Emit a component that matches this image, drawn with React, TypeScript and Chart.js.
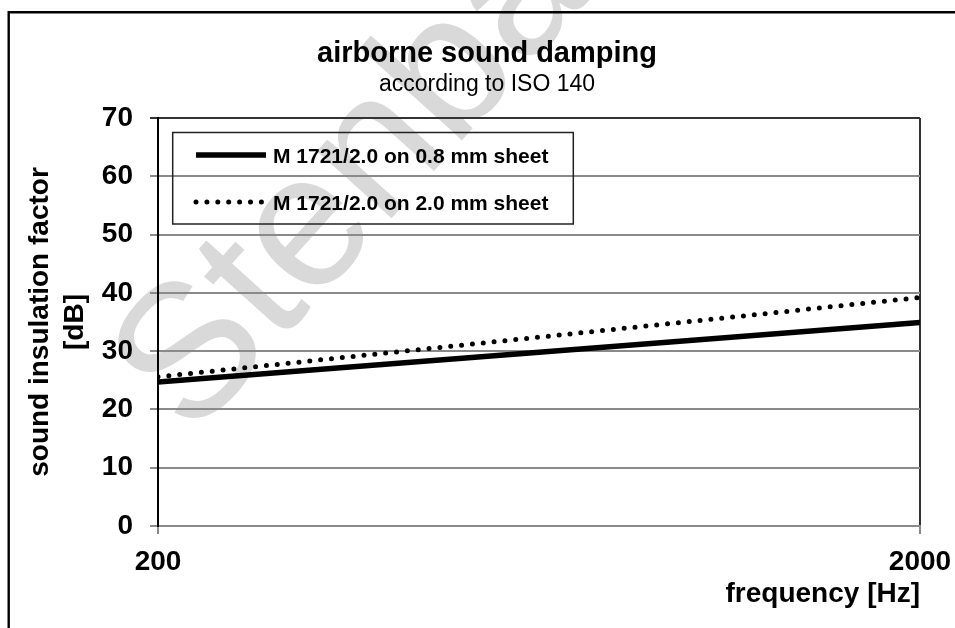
import { useEffect, useRef } from 'react';
import { Chart, registerables } from 'chart.js';

Chart.register(...registerables);

const chartTitle = 'airborne sound damping';
const chartSubtitle = 'according to ISO 140';
const xAxisTitle = 'frequency [Hz]';
const yAxisTitle = ['sound insulation factor', '[dB]'];
const seriesLabels = ['M 1721/2.0 on 0.8 mm sheet', 'M 1721/2.0 on 2.0 mm sheet'];
const frequencies = [200, 2000];
const sheet08mm = [24.7, 34.9];
const sheet20mm = [25.6, 39.2];
const xTickValues = [200, 2000];
const yMin = 0;
const yMax = 70;
const yStep = 10;
const watermarkText = 'Stenbach';

const FONT = "'Liberation Sans', Arial, Helvetica, sans-serif";
const GRID = '#8a8a8a';
const DARK = '#333333';

const backgroundPlugin = {
  id: 'bgWatermark',
  beforeDraw(chart: any) {
    const ctx = chart.ctx;
    ctx.save();
    ctx.fillStyle = '#ffffff';
    ctx.fillRect(0, 0, chart.width, chart.height);
    ctx.translate(192, 440);
    ctx.rotate((-48 * Math.PI) / 180);
    ctx.font = `190px ${FONT}`;
    ctx.fillStyle = '#d9d9d9';
    ctx.textBaseline = 'alphabetic';
    ctx.fillText(watermarkText, 0, 0);
    ctx.restore();
  },
  afterDraw(chart: any) {
    const ctx = chart.ctx;
    ctx.save();
    ctx.strokeStyle = '#000';
    ctx.lineWidth = 2.4;
    ctx.beginPath();
    ctx.moveTo(8.7, chart.height);
    ctx.lineTo(8.7, 12.2);
    ctx.lineTo(chart.width, 12.2);
    ctx.stroke();
    ctx.restore();
  },
};

const boxedLegendPlugin = {
  id: 'boxedLegend',
  afterDatasetsDraw(chart: any) {
    const ctx = chart.ctx;
    const ca = chart.chartArea;
    const left = ca.left + 14.7;
    const top = ca.top + 14.5;
    const w = 400.6;
    const h = 91.5;
    ctx.save();
    ctx.strokeStyle = '#222';
    ctx.lineWidth = 1.5;
    ctx.strokeRect(left, top, w, h);
    const rows = [22.5, 69.5];
    chart.data.datasets.forEach((ds: any, i: number) => {
      const y = top + rows[i];
      ctx.save();
      ctx.strokeStyle = ds.borderColor;
      ctx.lineWidth = ds.borderWidth;
      ctx.lineCap = ds.borderCapStyle || 'butt';
      ctx.setLineDash(ds.borderDash || []);
      ctx.beginPath();
      ctx.moveTo(left + 23.3, y);
      ctx.lineTo(left + 93.3, y);
      ctx.stroke();
      ctx.restore();
      ctx.fillStyle = '#000';
      ctx.font = `bold 21px ${FONT}`;
      ctx.textBaseline = 'alphabetic';
      ctx.textAlign = 'left';
      ctx.fillText(ds.label, left + 100.3, y + 7.8);
    });
    ctx.restore();
  },
};

export default function App() {
  const canvasRef = useRef<HTMLCanvasElement | null>(null);

  useEffect(() => {
    const canvas = canvasRef.current;
    if (!canvas) return;
    const chart = new Chart(canvas, {
      type: 'line',
      data: {
        datasets: [
          {
            label: seriesLabels[0],
            data: frequencies.map((f, i) => ({ x: f, y: sheet08mm[i] })),
            borderColor: '#000',
            backgroundColor: '#000',
            borderWidth: 5.5,
            pointRadius: 0,
            tension: 0,
          },
          {
            label: seriesLabels[1],
            data: frequencies.map((f, i) => ({ x: f, y: sheet20mm[i] })),
            borderColor: '#000',
            backgroundColor: '#000',
            borderWidth: 5,
            borderDash: [0, 10.9],
            borderCapStyle: 'round',
            pointRadius: 0,
            tension: 0,
          },
        ],
      },
      options: {
        responsive: false,
        animation: false,
        devicePixelRatio: 1,
        layout: { padding: { left: 19, right: 0, top: 0, bottom: 0 }, autoPadding: false },
        plugins: {
          legend: { display: false },
          tooltip: { enabled: false },
          title: {
            display: true,
            text: chartTitle,
            color: '#000',
            font: { family: FONT, size: 29, weight: 'bold', lineHeight: 1.15 },
            padding: { top: 37.3, bottom: 0 },
          },
          subtitle: {
            display: true,
            text: chartSubtitle,
            color: '#000',
            font: { family: FONT, size: 23, weight: 'normal', lineHeight: 1.2 },
            padding: { top: 0, bottom: 19.75 },
          },
        },
        scales: {
          x: {
            type: 'logarithmic',
            min: 200,
            max: 2000,
            afterBuildTicks: (s: any) => {
              s.ticks = xTickValues.map((v) => ({ value: v }));
            },
            ticks: {
              autoSkip: false,
              maxRotation: 0,
              padding: 11.5,
              color: '#000',
              font: { family: FONT, size: 28, weight: 'bold', lineHeight: 1.2 },
              callback: (v: any) => String(v),
            },
            grid: {
              color: (c: any) => (c.tick && c.tick.value === 2000 ? DARK : '#000'),
              tickColor: GRID,
              lineWidth: 2,
              tickLength: 8,
            },
            border: { color: GRID, width: 2 },
            title: {
              display: true,
              text: xAxisTitle,
              align: 'end',
              color: '#000',
              font: { family: FONT, size: 28, weight: 'bold', lineHeight: 1.2 },
              padding: { top: 0, bottom: 17 },
            },
            afterFit: (s: any) => {
              s.height = 102;
              s.paddingLeft = 0;
              s.paddingRight = 0;
            },
          },
          y: {
            type: 'linear',
            min: yMin,
            max: yMax,
            ticks: {
              stepSize: yStep,
              padding: 17,
              color: '#000',
              font: { family: FONT, size: 28, weight: 'bold', lineHeight: 1.2 },
            },
            grid: {
              color: (c: any) => (c.tick && c.tick.value === yMax ? DARK : GRID),
              lineWidth: 2,
              tickLength: 8,
            },
            border: { color: '#000', width: 2 },
            title: {
              display: true,
              text: yAxisTitle,
              color: '#000',
              font: { family: FONT, size: 28, weight: 'bold', lineHeight: 1.25 },
              padding: { top: 3.8, bottom: 0 },
            },
            afterFit: (s: any) => {
              s.width = 139;
              s.paddingTop = 0;
              s.paddingBottom = 0;
            },
          },
          spacer: {
            type: 'linear',
            position: 'right',
            display: true,
            grid: { display: false, drawTicks: false },
            ticks: { display: false },
            border: { display: false },
            afterFit: (s: any) => {
              s.width = 35;
            },
          },
        },
      },
      plugins: [backgroundPlugin, boxedLegendPlugin],
    } as any);
    return () => chart.destroy();
  }, []);

  return (
    <div style={{ position: 'fixed', left: 0, top: 0, width: 955, height: 628, background: '#fff' }}>
      <canvas ref={canvasRef} width={955} height={628} style={{ width: 955, height: 628, display: 'block' }} />
    </div>
  );
}
